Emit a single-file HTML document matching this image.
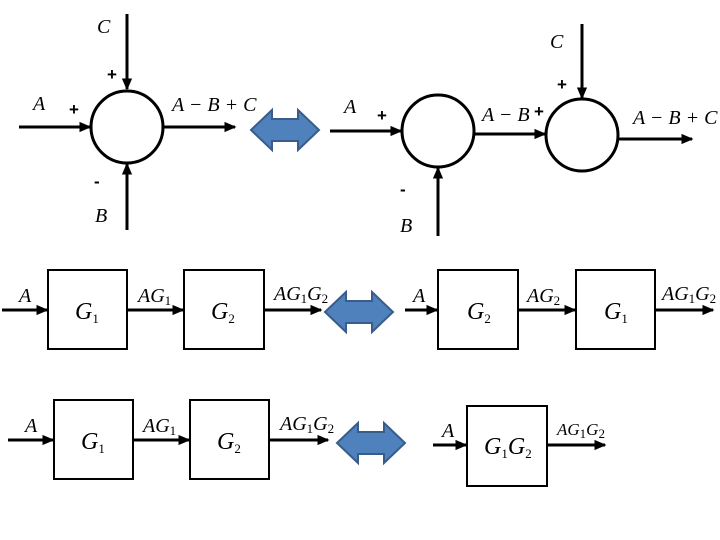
<!DOCTYPE html>
<html><head><style>body{margin:0;background:#fff}svg{display:block}
text{font-family:"Liberation Serif",serif;font-style:italic;font-size:20px;fill:#000}
.p{font-family:"Liberation Sans",sans-serif;font-style:normal;font-size:17px;font-weight:bold}
.g{font-size:24px}.s{font-size:13px;font-style:normal}
</style></head><body>
<svg width="720" height="540" viewBox="0 0 720 540" xmlns="http://www.w3.org/2000/svg">
<defs><marker id="a" markerWidth="4" markerHeight="4" refX="3.5" refY="2" orient="auto" markerUnits="strokeWidth"><path d="M0,0.3L4,2L0,3.7z" fill="#000"/></marker>
<g id="da"><path d="M0,20L21,0V9H47V0L68,20L47,40V31H21V40z" fill="#4f81bd" stroke="#385d8a" stroke-width="2"/></g></defs>
<g stroke="#000" stroke-width="3" fill="none">
<circle cx="127" cy="127" r="36"/>
<line x1="19" y1="127" x2="90" y2="127" marker-end="url(#a)"/>
<line x1="127" y1="14" x2="127" y2="89" marker-end="url(#a)"/>
<line x1="127" y1="230" x2="127" y2="164" marker-end="url(#a)"/>
<line x1="163" y1="127" x2="235" y2="127" marker-end="url(#a)"/>
<circle cx="438" cy="131" r="36"/>
<circle cx="582" cy="135" r="36"/>
<line x1="330" y1="131" x2="401" y2="131" marker-end="url(#a)"/>
<line x1="438" y1="236" x2="438" y2="168" marker-end="url(#a)"/>
<line x1="474" y1="134" x2="545" y2="134" marker-end="url(#a)"/>
<line x1="582" y1="24" x2="582" y2="98" marker-end="url(#a)"/>
<line x1="618" y1="139" x2="692" y2="139" marker-end="url(#a)"/>
<g stroke-width="2">
<rect x="48" y="270" width="79" height="79"/><rect x="184" y="270" width="80" height="79"/>
<rect x="438" y="270" width="80" height="79"/><rect x="576" y="270" width="79" height="79"/>
<rect x="54" y="400" width="79" height="79"/><rect x="190" y="400" width="79" height="79"/>
<rect x="467" y="406" width="80" height="80"/></g>
<line x1="2" y1="310" x2="47" y2="310" marker-end="url(#a)"/>
<line x1="127" y1="310" x2="183" y2="310" marker-end="url(#a)"/>
<line x1="264" y1="310" x2="321" y2="310" marker-end="url(#a)"/>
<line x1="405" y1="310" x2="437" y2="310" marker-end="url(#a)"/>
<line x1="518" y1="310" x2="575" y2="310" marker-end="url(#a)"/>
<line x1="655" y1="310" x2="713" y2="310" marker-end="url(#a)"/>
<line x1="8" y1="440" x2="53" y2="440" marker-end="url(#a)"/>
<line x1="133" y1="440" x2="189" y2="440" marker-end="url(#a)"/>
<line x1="269" y1="440" x2="328" y2="440" marker-end="url(#a)"/>
<line x1="433" y1="445" x2="466" y2="445" marker-end="url(#a)"/>
<line x1="547" y1="445" x2="605" y2="445" marker-end="url(#a)"/>
</g>
<use href="#da" x="251" y="110"/><use href="#da" x="325" y="292"/><use href="#da" x="337" y="423"/>
<text x="97" y="33">C</text><text x="33" y="110">A</text><text x="95" y="222">B</text>
<text class="p" x="107" y="80">+</text><text class="p" x="69" y="115">+</text><text class="p" x="94" y="187">-</text>
<text x="172" y="111">A − B + C</text>
<text x="550" y="48">C</text><text x="344" y="113">A</text><text x="400" y="232">B</text>
<text class="p" x="377" y="121">+</text><text class="p" x="400" y="195">-</text>
<text class="p" x="557" y="90">+</text><text class="p" x="534" y="117">+</text>
<text x="482" y="121">A − B</text><text x="633" y="124">A − B + C</text>
<text x="19" y="302">A</text><text class="g" x="75" y="319">G<tspan class="s" dy="4">1</tspan></text>
<text x="138" y="302">AG<tspan class="s" dy="3">1</tspan></text>
<text class="g" x="211" y="319">G<tspan class="s" dy="4">2</tspan></text>
<text x="274" y="300">AG<tspan class="s" dy="3">1</tspan><tspan dy="-3">G</tspan><tspan class="s" dy="3">2</tspan></text>
<text x="413" y="302">A</text><text class="g" x="467" y="319">G<tspan class="s" dy="4">2</tspan></text>
<text x="527" y="302">AG<tspan class="s" dy="3">2</tspan></text>
<text class="g" x="604" y="319">G<tspan class="s" dy="4">1</tspan></text>
<text x="662" y="300">AG<tspan class="s" dy="3">1</tspan><tspan dy="-3">G</tspan><tspan class="s" dy="3">2</tspan></text>
<text x="25" y="432">A</text><text class="g" x="81" y="449">G<tspan class="s" dy="4">1</tspan></text>
<text x="143" y="432">AG<tspan class="s" dy="3">1</tspan></text>
<text class="g" x="217" y="449">G<tspan class="s" dy="4">2</tspan></text>
<text x="280" y="430">AG<tspan class="s" dy="3">1</tspan><tspan dy="-3">G</tspan><tspan class="s" dy="3">2</tspan></text>
<text x="442" y="437">A</text>
<text class="g" x="484" y="454">G<tspan class="s" dy="4">1</tspan><tspan dy="-4">G</tspan><tspan class="s" dy="4">2</tspan></text>
<text style="font-size:17px" x="557" y="435">AG<tspan class="s" dy="3">1</tspan><tspan dy="-3">G</tspan><tspan class="s" dy="3">2</tspan></text>
</svg>
</body></html>
